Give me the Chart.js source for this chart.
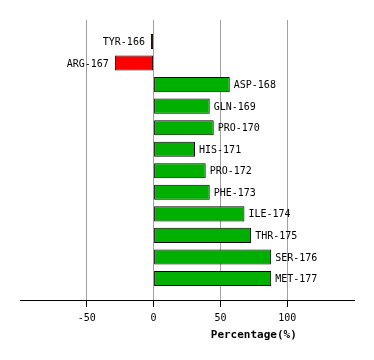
<!DOCTYPE html>
<html>
<head>
<meta charset="utf-8">
<script src="https://cdn.jsdelivr.net/npm/chart.js@4/dist/chart.umd.min.js"></script>
<style>
  html, body { margin: 0; padding: 0; background: #fff; }
  #wrap { width: 374px; height: 360px; }
</style>
</head>
<body>
<div id="wrap"><canvas id="chart" width="374" height="360"></canvas></div>
<script>
// residue contributions, top to bottom
const residues = ['TYR-166', 'ARG-167', 'ASP-168', 'GLN-169', 'PRO-170', 'HIS-171',
                  'PRO-172', 'PHE-173', 'ILE-174', 'THR-175', 'SER-176', 'MET-177'];
const percentages = [-2, -29, 57, 42, 45, 31, 39, 42, 68, 73, 88, 88];
const tickValues = [-50, 0, 50, 100];
const axisTitle = 'Percentage(%)';

const MONO = '"DejaVu Sans Mono", "Liberation Mono", monospace';

// residue names next to the bar ends
const barLabels = {
  id: 'barLabels',
  afterDatasetsDraw(chart) {
    const ctx = chart.ctx;
    const meta = chart.getDatasetMeta(0);
    ctx.save();
    ctx.font = '10px ' + MONO;
    ctx.fillStyle = '#000';
    ctx.textBaseline = 'middle';
    meta.data.forEach((bar, i) => {
      if (percentages[i] < 0) {
        ctx.textAlign = 'right';
        ctx.fillText(residues[i], bar.x - 6, bar.y + 1);
      } else {
        ctx.textAlign = 'left';
        ctx.fillText(residues[i], bar.x + 4, bar.y + 1);
      }
    });
    ctx.restore();
  }
};

// axis title sits over the positive half of the axis
const xTitle = {
  id: 'xTitle',
  afterDraw(chart) {
    const x = chart.scales.x;
    const ctx = chart.ctx;
    ctx.save();
    ctx.font = 'bold 11px ' + MONO;
    ctx.fillStyle = '#000';
    ctx.textAlign = 'center';
    ctx.textBaseline = 'middle';
    const cx = (x.getPixelForValue(0) + x.getPixelForValue(x.max)) / 2;
    ctx.fillText(axisTitle, cx, chart.chartArea.bottom + 35);
    ctx.restore();
  }
};

new Chart(document.getElementById('chart'), {
  type: 'bar',
  data: {
    datasets: [{
      data: percentages.map((v, i) => ({ x: v, y: i })),
      backgroundColor: percentages.map(v => v < 0 ? '#ff0000' : '#00b000'),
      borderColor: '#000',
      borderWidth: 1,
      borderSkipped: false,
      categoryPercentage: 1,
      barPercentage: 0.7
    }]
  },
  options: {
    indexAxis: 'y',
    responsive: false,
    animation: false,
    layout: { padding: { left: 20, right: 20, top: 20, bottom: 0 } },
    plugins: {
      legend: { display: false },
      tooltip: { enabled: false }
    },
    scales: {
      y: {
        type: 'linear',
        min: -1,
        max: 12,
        reverse: true,
        offset: false,
        display: false
      },
      x: {
        type: 'linear',
        min: -100,
        max: 150,
        afterFit: s => { s.height = 60; },
        border: { display: true, color: '#000', width: 1 },
        grid: {
          color: c => tickValues.includes(c.tick.value) ? '#a0a0a0' : 'rgba(0,0,0,0)',
          tickColor: c => tickValues.includes(c.tick.value) ? '#000' : 'rgba(0,0,0,0)',
          tickLength: 7,
          lineWidth: 1
        },
        ticks: {
          stepSize: 50,
          padding: 5,
          color: '#000',
          font: { family: MONO, size: 10 },
          callback: v => tickValues.includes(v) ? String(v) : ''
        }
      }
    }
  },
  plugins: [barLabels, xTitle]
});
</script>
</body>
</html>
